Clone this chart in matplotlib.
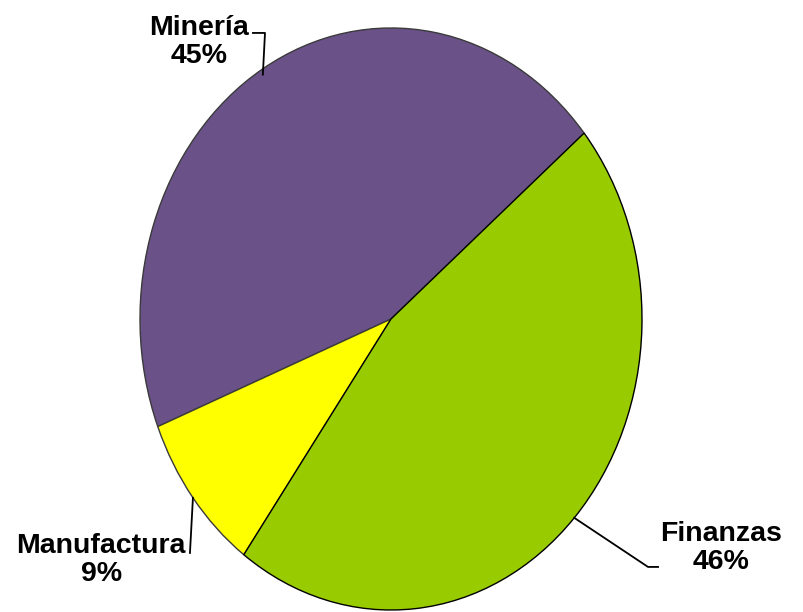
import numpy as np
import matplotlib.pyplot as plt

labels = ['Minería', 'Manufactura', 'Finanzas']
values = [45, 9, 46]
colors = ['#6A5289', '#FFFF00', '#99CC00']

# label text positions (data units of the unit pie) and elbow points of leader lines
text_pos = [(-0.765, 0.952), (-1.155, -0.828), (1.315, -0.787)]
elbow = [[(-0.502, 0.983), (-0.55, 0.983)],
         [(-0.801, -0.804)],
         [(1.024, -0.852), (1.064, -0.852)]]

plt.rcParams['font.family'] = ['Liberation Sans Narrow', 'Liberation Sans', 'DejaVu Sans']

fig = plt.figure(figsize=(8.04, 6.12), dpi=100)
ax = fig.add_axes([0, 0, 1, 1])

wedges, _ = ax.pie(values, colors=colors, startangle=39.7, counterclock=True,
                   wedgeprops=dict(edgecolor='#3a3a3a', linewidth=1.0))
wedges[2].set_edgecolor('black')
wedges[2].set_zorder(3)

for w, lab, v, tp, el in zip(wedges, labels, values, text_pos, elbow):
    mid = np.deg2rad((w.theta1 + w.theta2) / 2)
    x0, y0 = np.cos(mid), np.sin(mid)
    if lab == 'Minería':
        pts = [(x0, y0 - 0.02)] + el
    else:
        pts = [(x0, y0)] + el
    xs, ys = zip(*pts)
    ax.plot(xs, ys, color='black', lw=1.3, zorder=4)
    ax.text(tp[0], tp[1], f'{lab}\n{v}%', ha='center', va='center',
            fontsize=20.5, fontweight='bold', linespacing=1.1, zorder=5)

ax.set_aspect('auto')
ax.set_xlim(-391 / 251, (804 - 391) / 251)
ax.set_ylim(-293 / 291, (612 - 293) / 291)
ax.axis('off')

fig.savefig('out.png', dpi=100)
